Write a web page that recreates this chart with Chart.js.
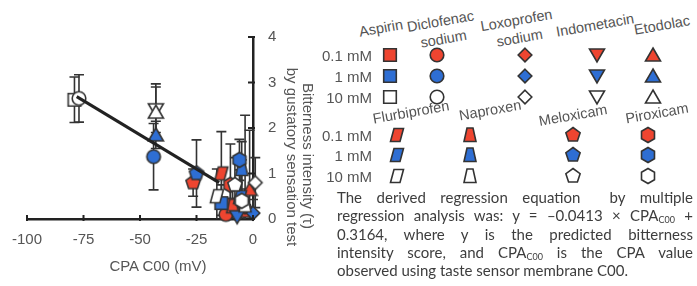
<!DOCTYPE html>
<html>
<head>
<meta charset="utf-8">
<script src="https://cdn.jsdelivr.net/npm/chart.js@4.4.1/dist/chart.umd.min.js"></script>
<style>
  body { margin: 0; background: #fff; width: 697px; height: 286px; overflow: hidden; position: relative;
         font-family: "Liberation Sans", Arial, sans-serif; color: #555; }
  #wrap { position: absolute; left: 0; top: 0; width: 330px; height: 286px; }
  .name { position: absolute; font-size: 14.5px; line-height: 18px; white-space: nowrap; text-align: center;
          transform: translate(-50%, -50%) rotate(-10deg); }
  .conc { position: absolute; font-size: 15px; width: 70px; text-align: right; transform: translateY(-50%); }
  .mk { position: absolute; transform: translate(-50%, -50%); }
  .ytitle { position: absolute; font-size: 15px; white-space: nowrap; transform: translate(-50%, -50%) rotate(90deg); }
  #xtitle { position: absolute; left: 158px; top: 265px; font-size: 15px; transform: translate(-50%, -50%); white-space: nowrap; }
  #para { position: absolute; left: 337px; top: 188px; width: 356px; font-family: Lato, sans-serif;
          font-size: 15px; color: #3d3d3d; }
  #para div { height: 18.3px; line-height: 18.3px; text-align: justify; text-align-last: justify; white-space: nowrap; }
  #para div.last { text-align-last: left; }
  #para sub { font-size: 9px; line-height: 0; vertical-align: -2px; }
</style>
</head>
<body>
<div id="wrap"><canvas id="chart" width="330" height="286"></canvas></div>
<div class="ytitle" style="left:308px;top:156px">Bitterness intensity (τ)</div>
<div class="ytitle" style="left:292px;top:157px">by gustatory sensation test</div>
<div id="xtitle">CPA C00 (mV)</div>
<div id="legend"></div>
<div id="para">
  <div>The derived regression equation &nbsp;by multiple</div>
  <div>regression analysis was: y = –0.0413 × CPA<sub>C00</sub> +</div>
  <div>0.3164, where y is the predicted bitterness</div>
  <div>intensity score, and CPA<sub>C00</sub> is the CPA value</div>
  <div class="last">observed using taste sensor membrane C00.</div>
</div>
<script>
// Drugs and their marker shapes
const drugs = ["Aspirin", "Diclofenac\nsodium", "Loxoprofen\nsodium", "Indometacin", "Etodolac",
               "Flurbiprofen", "Naproxen", "Meloxicam", "Piroxicam"];
const shapes = ["square", "circle", "diamond", "triDown", "triUp",
                "parallelogram", "trapezoid", "pentagon", "hexagon"];
const concLabels = ["0.1 mM", "1 mM", "10 mM"];
const concColors = ["#ee4530", "#2e6ed3", "#ffffff"];

// CPA C00 (mV), bitterness score and its SD, one value per drug
const cpa01 = [-4, -12, -3.5, -10, -1.5, -14, -9, -26.5, -10];
const bit01 = [0.18, 0.1, 0.26, 0.32, 0.65, 1.0, 0.28, 0.8, 0.75];
const sd01 = [0.3, 0.35, 0.4, 0.5, 1.3, 0.92, 0.45, 0.3, 0.9];

const cpa1 = [-14, -44, 0, -7, -43, -5.7, -5, -25, -6];
const bit1 = [0.35, 1.37, 0.13, 0.05, 1.85, 0.48, 1.1, 1.0, 1.3];
const sd1 = [0.4, 0.73, 0.3, 0.4, 0.3, 0.6, 0.6, 0.74, 0.45];

const cpa10 = [-79, -77, 1, -43, -43, -16, -3.5, -8, -5];
const bit10 = [2.62, 2.65, 0.8, 2.4, 2.35, 0.5, 0.3, 0.75, 0.4];
const sd10 = [0.5, 0.52, 0.55, 0.5, 0.62, 0.6, 1.98, 0.6, 0.9];

// Regression line end points
const fitX = [-78, -15];
const fitY = [2.69, 0.8];

const xTicks = [-100, -75, -50, -25, 0];
const yTicks = [0, 1, 2, 3, 4];

const series = [
  { cpa: cpa01, bit: bit01, sd: sd01 },
  { cpa: cpa1, bit: bit1, sd: sd1 },
  { cpa: cpa10, bit: bit10, sd: sd10 },
];

function polygon(n, r, rot) {
  const pts = [];
  for (let i = 0; i < n; i++) {
    const a = rot + (i * 2 * Math.PI) / n;
    pts.push([r * Math.cos(a), r * Math.sin(a)]);
  }
  return pts;
}

const SHAPE_PTS = {
  square: [[-6.3, -6.3], [6.3, -6.3], [6.3, 6.3], [-6.3, 6.3]],
  diamond: [[0, -6.8], [6.8, 0], [0, 6.8], [-6.8, 0]],
  triUp: [[0, -7], [7.5, 6], [-7.5, 6]],
  triDown: [[-7.5, -6], [7.5, -6], [0, 7]],
  parallelogram: [[-3, -6.5], [6.5, -6.5], [3, 6.5], [-6.5, 6.5]],
  trapezoid: [[-3, -7], [3, -7], [6, 6.5], [-6, 6.5]],
  pentagon: polygon(5, 7.5, -Math.PI / 2),
  hexagon: polygon(6, 7.5, -Math.PI / 2),
};

function shapeCanvas(shape, fill) {
  const c = document.createElement("canvas");
  c.width = 18;
  c.height = 18;
  const g = c.getContext("2d");
  g.translate(9, 9);
  g.beginPath();
  if (shape === "circle") {
    g.arc(0, 0, 6.8, 0, Math.PI * 2);
  } else {
    SHAPE_PTS[shape].forEach(([x, y], i) => (i ? g.lineTo(x, y) : g.moveTo(x, y)));
    g.closePath();
  }
  g.fillStyle = fill;
  g.fill();
  g.lineWidth = 1.6;
  g.strokeStyle = "#333";
  g.stroke();
  return c;
}

// Error bars drawn under the markers
const errorBars = {
  id: "errorBars",
  beforeDatasetsDraw(chart) {
    const { ctx, scales: { x, y } } = chart;
    ctx.save();
    ctx.strokeStyle = "#333";
    ctx.lineWidth = 1.6;
    series.forEach((s) => {
      s.cpa.forEach((v, i) => {
        const px = x.getPixelForValue(v);
        const hi = s.bit[i] + s.sd[i];
        const lo = s.bit[i] - s.sd[i];
        const pHi = y.getPixelForValue(hi);
        const pLo = y.getPixelForValue(Math.max(0, lo));
        ctx.beginPath();
        ctx.moveTo(px, pHi);
        ctx.lineTo(px, pLo);
        ctx.moveTo(px - 5, pHi);
        ctx.lineTo(px + 5, pHi);
        if (lo > 0) {
          ctx.moveTo(px - 5, pLo);
          ctx.lineTo(px + 5, pLo);
        }
        ctx.stroke();
      });
    });
    ctx.restore();
  },
};

// Small inward tick marks on both axes
const innerTicks = {
  id: "innerTicks",
  afterDraw(chart) {
    const { ctx, scales: { x, y } } = chart;
    ctx.save();
    ctx.strokeStyle = "#222";
    ctx.lineWidth = 2;
    ctx.beginPath();
    xTicks.forEach((t) => {
      const px = x.getPixelForValue(t);
      ctx.moveTo(px, y.bottom + 2);
      ctx.lineTo(px, y.bottom - 4);
    });
    yTicks.forEach((t) => {
      const py = y.getPixelForValue(t);
      ctx.moveTo(x.right + 2, py);
      ctx.lineTo(x.right - 5, py);
    });
    ctx.stroke();
    ctx.restore();
  },
};

const datasets = series.map((s, k) => ({
  type: "scatter",
  data: s.cpa.map((v, i) => ({ x: v, y: s.bit[i] })),
  pointStyle: shapes.map((sh) => shapeCanvas(sh, concColors[k])),
  clip: false,
  order: 3 - k,
}));

datasets.push({
  type: "line",
  data: fitX.map((v, i) => ({ x: v, y: fitY[i] })),
  borderColor: "#222",
  borderWidth: 3,
  pointRadius: 0,
  order: -1,
});

new Chart(document.getElementById("chart"), {
  data: { datasets },
  plugins: [errorBars, innerTicks],
  options: {
    responsive: false,
    devicePixelRatio: 1,
    animation: false,
    layout: { padding: { left: 23, top: 37, right: 0, bottom: 0 } },
    plugins: { legend: { display: false }, tooltip: { enabled: false } },
    scales: {
      x: {
        type: "linear",
        min: -100,
        max: 0,
        afterBuildTicks: (s) => { s.ticks = xTicks.map((v) => ({ value: v })); },
        afterFit: (s) => { s.height = 67; },
        ticks: { color: "#555", font: { size: 15, family: "Liberation Sans" }, padding: 12, maxRotation: 0 },
        grid: { display: false, drawTicks: false },
        border: { color: "#222", width: 2.5 },
      },
      y: {
        type: "linear",
        position: "right",
        min: 0,
        max: 4,
        afterBuildTicks: (s) => { s.ticks = yTicks.map((v) => ({ value: v })); },
        afterFit: (s) => { s.width = 77; },
        ticks: { color: "#555", font: { size: 15, family: "Liberation Sans" }, padding: 15 },
        grid: { display: false, drawTicks: false },
        border: { color: "#222", width: 2.5 },
      },
    },
  },
});

// Legend: drug names, concentration rows and marker glyphs
const legend = document.getElementById("legend");
const nameX = [381, 442, 518, 595, 662, 411, 490, 573, 657];
const nameY = [28, 30, 29, 25, 25, 112, 110, 115, 113];
const markX = [390, 437, 525, 597, 653, 397, 470, 573, 648];
const rowY = [[55, 76, 97], [135, 155, 176]];

drugs.forEach((d, i) => {
  const el = document.createElement("div");
  el.className = "name";
  el.style.left = nameX[i] + "px";
  el.style.top = nameY[i] + "px";
  el.innerHTML = d.replace("\n", "<br>");
  legend.appendChild(el);
  const group = i < 5 ? 0 : 1;
  concColors.forEach((col, k) => {
    const m = shapeCanvas(shapes[i], col);
    m.className = "mk";
    m.style.left = markX[i] + "px";
    m.style.top = rowY[group][k] + "px";
    legend.appendChild(m);
  });
});

rowY.forEach((rows) => {
  rows.forEach((ry, k) => {
    const el = document.createElement("div");
    el.className = "conc";
    el.style.left = "302px";
    el.style.top = ry + "px";
    el.textContent = concLabels[k];
    legend.appendChild(el);
  });
});
</script>
</body>
</html>
